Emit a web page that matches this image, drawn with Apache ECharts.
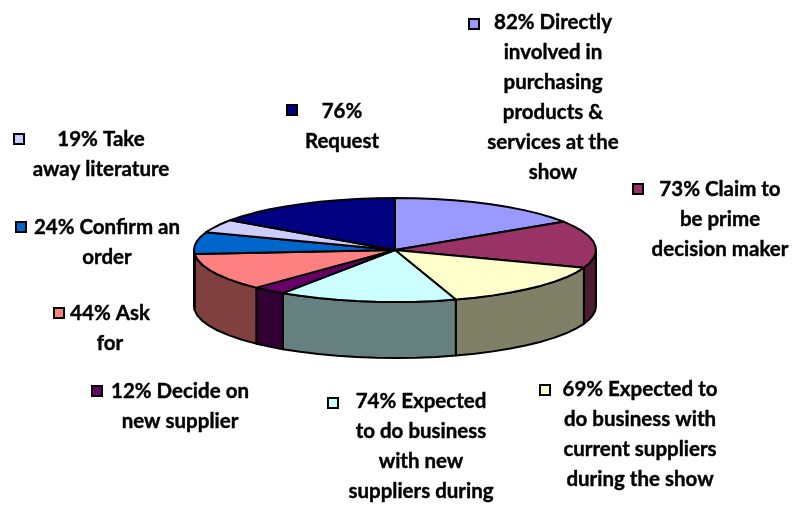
<!DOCTYPE html>
<html>
<head>
<meta charset="utf-8">
<style>
  html, body { margin: 0; padding: 0; background: #fff; }
  #main { width: 795px; height: 506px; }
</style>
</head>
<body>
<div id="main"></div>
<script src="https://cdn.jsdelivr.net/npm/echarts@6/dist/echarts.min.js"></script>
<script>
// percentages printed in the labels
var percents = [82, 73, 69, 74, 12, 44, 24, 19, 76];
var labelTails = [
  ' Directly\ninvolved in\npurchasing\nproducts &\nservices at the\nshow',
  ' Claim to\nbe prime\ndecision maker',
  ' Expected to\ndo business with\ncurrent suppliers\nduring the show',
  ' Expected\nto do business\nwith new\nsuppliers during',
  ' Decide on\nnew supplier',
  ' Ask\nfor',
  ' Confirm an\norder',
  ' Take\naway literature',
  '\nRequest'
];
// slice sizes as drawn in the picture, in degrees (they do not follow the printed % exactly)
var sliceDegrees = [57, 53, 52.4, 51.5, 9.7, 41.9, 24.5, 15, 55];
var colors = ['#9999ff', '#993366', '#ffffcc', '#ccffff', '#660066', '#ff8080', '#0066cc', '#ccccff', '#000080'];

// label layout: [key x, key y, text centre x, first line centre y]
var labelPos = [
  [474, 24, 553, 22],
  [638, 189, 720, 189],
  [545, 390, 640, 389],
  [333, 403, 421, 401],
  [97, 391, 180, 391],
  [59, 313, 110, 313],
  [21, 227, 107, 227],
  [19, 139, 101, 139],
  [292, 110, 342, 111]
];

var cx = 395, cy = 250, rx = 201, ry = 52, depth = 56;
var total = sliceDegrees.reduce(function (a, b) { return a + b; }, 0);

// start / end angle of each slice, clockwise from 12 o'clock
var sliceAngles = [];
var running = 0;
sliceDegrees.forEach(function (v) {
  var from = echarts.number.linearMap(running, [0, total], [0, 360]);
  running += v;
  sliceAngles.push([from, echarts.number.linearMap(running, [0, total], [0, 360])]);
});

function rimPoints(from, to, dy) {
  var pts = [];
  var n = Math.max(1, Math.ceil((to - from) / 6));
  for (var i = 0; i <= n; i++) {
    var t = (from + (to - from) * i / n) * Math.PI / 180;
    pts.push([cx + rx * Math.sin(t), cy - ry * Math.cos(t) + dy]);
  }
  return pts;
}

// wall is the slice colour at half brightness
function wallColor(c) {
  var rgb = echarts.color.parse(c);
  return 'rgb(' + Math.round(rgb[0] / 2) + ',' + Math.round(rgb[1] / 2) + ',' + Math.round(rgb[2] / 2) + ')';
}

function renderWall(params) {
  var a = sliceAngles[params.dataIndex];
  var from = Math.max(a[0], 90), to = Math.min(a[1], 270);
  if (from >= to) return null;
  var points = rimPoints(from, to, 0).concat(rimPoints(from, to, depth).reverse());
  return {
    type: 'polygon',
    shape: { points: points },
    style: {
      fill: wallColor(colors[params.dataIndex]),
      stroke: '#000',
      lineWidth: 2,
      lineJoin: 'round'
    }
  };
}

function renderTop(params) {
  var a = sliceAngles[params.dataIndex];
  return {
    type: 'polygon',
    shape: { points: [[cx, cy]].concat(rimPoints(a[0], a[1], 0)) },
    style: {
      fill: colors[params.dataIndex],
      stroke: '#000',
      lineWidth: 2,
      lineJoin: 'round'
    }
  };
}

var seriesData = percents.map(function (p, i) {
  return { name: p + '%' + labelTails[i], value: [p, sliceDegrees[i]] };
});

var labelGraphics = [];
percents.forEach(function (p, i) {
  var pos = labelPos[i];
  labelGraphics.push({
    type: 'rect',
    shape: { x: pos[0] - 5, y: pos[1] - 5, width: 10, height: 10 },
    style: { fill: colors[i], stroke: '#000', lineWidth: 2 }
  });
  labelGraphics.push({
    type: 'text',
    style: {
      x: pos[2],
      y: pos[3] - 15,
      text: p + '%' + labelTails[i],
      align: 'center',
      verticalAlign: 'top',
      lineHeight: 30,
      font: 'bold 20.5px Lato',
      fill: '#000',
      stroke: '#000',
      lineWidth: 0.4
    }
  });
});

var chart = echarts.init(document.getElementById('main'), null, { width: 795, height: 506 });
chart.setOption({
  animation: false,
  backgroundColor: '#ffffff',
  series: [
    { type: 'custom', coordinateSystem: 'none', silent: true, z: 1, data: seriesData, renderItem: renderWall },
    { type: 'custom', coordinateSystem: 'none', silent: true, z: 2, data: seriesData, renderItem: renderTop }
  ],
  graphic: labelGraphics
});
</script>
</body>
</html>
